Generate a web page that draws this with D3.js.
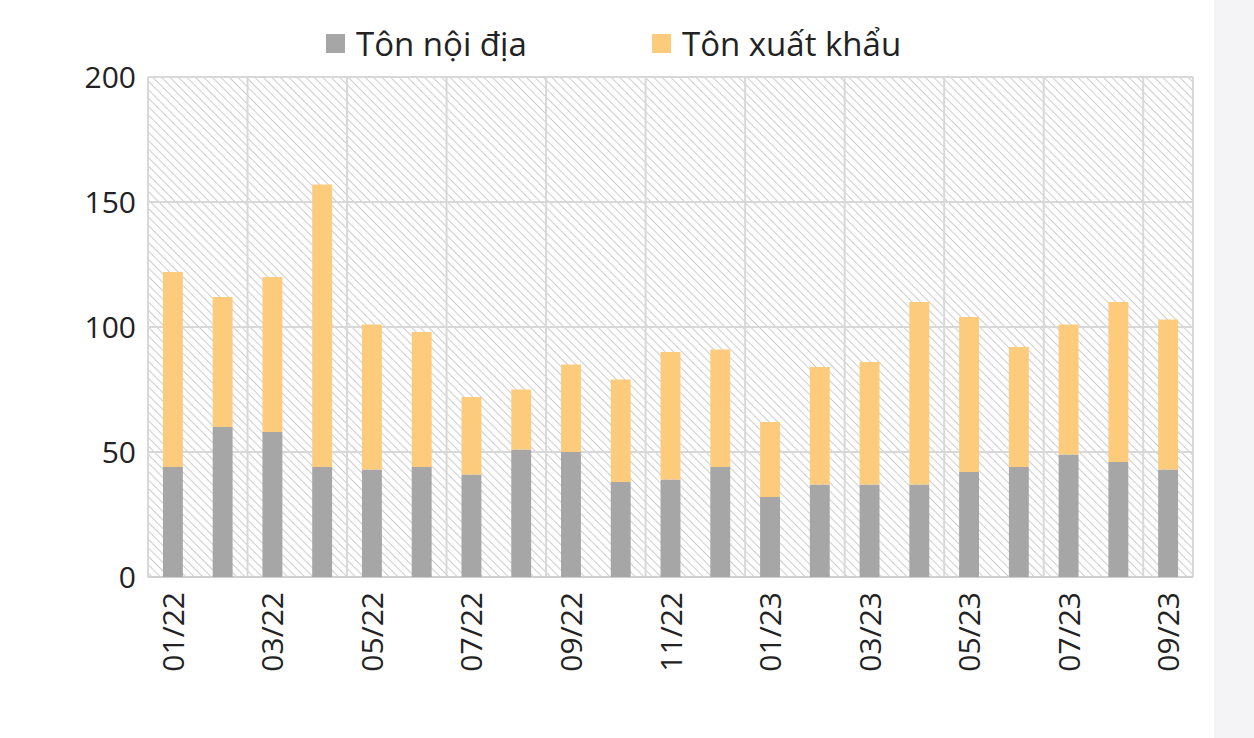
<!DOCTYPE html>
<html><head><meta charset="utf-8">
<script src="https://cdn.jsdelivr.net/npm/d3@7"></script>
<style>body{margin:0;background:#fff;}svg{display:block;}</style>
</head><body>
<svg id="chart" width="1254" height="738"></svg>
<script>
const months = ["01/22","02/22","03/22","04/22","05/22","06/22","07/22","08/22","09/22","10/22","11/22","12/22",
  "01/23","02/23","03/23","04/23","05/23","06/23","07/23","08/23","09/23"];
const domestic = [44,60,58,44,43,44,41,51,50,38,39,44,32,37,37,37,42,44,49,46,43];
const exportv = [78,52,62,113,58,54,31,24,35,41,51,47,30,47,49,73,62,48,52,64,60];
const yTicks = [0,50,100,150,200];
const seriesNames = ["Tôn nội địa","Tôn xuất khẩu"];
const colors = ["#a6a6a6","#fccc7c"];

const svg = d3.select("#chart");
const font = "'Open Sans', sans-serif";
svg.append("rect").attr("x",1214).attr("y",0).attr("width",40).attr("height",738).attr("fill","#f4f4f6");

const m = {left:148, right:1193, top:77, bottom:577};
const x = d3.scaleBand().domain(months).range([m.left,m.right]).paddingInner(0.6).paddingOuter(0.3);
const y = d3.scaleLinear().domain([0,200]).range([m.bottom,m.top]);

const defs = svg.append("defs");
const pat = defs.append("pattern").attr("id","hatch").attr("patternUnits","userSpaceOnUse")
  .attr("width",6).attr("height",6).attr("patternTransform","rotate(45)");
pat.append("line").attr("x1",0).attr("y1",0).attr("x2",6).attr("y2",0)
  .attr("stroke","#b8b8b8").attr("stroke-width",1.4);
svg.append("rect").attr("x",m.left).attr("y",m.top).attr("width",m.right-m.left).attr("height",m.bottom-m.top)
  .attr("fill","url(#hatch)");

// grid
const step = x.step();
for (let i = 0; i <= months.length; i += 2) {
  const gx = m.left + i*step;
  svg.append("line").attr("x1",gx).attr("x2",gx).attr("y1",m.top).attr("y2",m.bottom).attr("stroke","#d8d8d8").attr("stroke-width",2);
}
svg.append("line").attr("x1",m.right).attr("x2",m.right).attr("y1",m.top).attr("y2",m.bottom).attr("stroke","#d8d8d8").attr("stroke-width",2);
yTicks.forEach(t => {
  svg.append("line").attr("x1",m.left).attr("x2",m.right).attr("y1",y(t)).attr("y2",y(t))
    .attr("stroke", t===0 ? "#d0d0d0" : "#d8d8d8").attr("stroke-width",2);
  svg.append("text").attr("x",m.left-12).attr("y",y(t)).attr("dy","0.35em").attr("text-anchor","end")
    .attr("font-family",font).attr("font-size",30).attr("fill","#222").text(t);
});

// bars
const stack = months.map((mo,i) => ({mo, d:domestic[i], e:exportv[i]}));
svg.selectAll(".dom").data(stack).enter().append("rect")
  .attr("x",d=>x(d.mo)).attr("width",x.bandwidth()).attr("y",d=>y(d.d)).attr("height",d=>y(0)-y(d.d)).attr("fill",colors[0]);
svg.selectAll(".exp").data(stack).enter().append("rect")
  .attr("x",d=>x(d.mo)).attr("width",x.bandwidth()).attr("y",d=>y(d.d+d.e)).attr("height",d=>y(d.d)-y(d.d+d.e)).attr("fill",colors[1]);

// x labels
months.forEach((mo,i) => {
  if (i % 2) return;
  const cx = x(mo) + x.bandwidth()/2;
  svg.append("text").attr("transform",`translate(${cx+11},592) rotate(-90)`).attr("text-anchor","end")
    .attr("font-family",font).attr("font-size",30).attr("fill","#222").text(mo);
});

// legend
const lx = [326, 652];
seriesNames.forEach((n,i) => {
  svg.append("rect").attr("x",lx[i]).attr("y",34).attr("width",19).attr("height",19).attr("fill",colors[i]);
  svg.append("text").attr("x",lx[i]+30).attr("y",44).attr("dy","0.35em")
    .attr("font-family",font).attr("font-size",33).attr("fill","#222").text(n);
});
</script>
</body></html>
